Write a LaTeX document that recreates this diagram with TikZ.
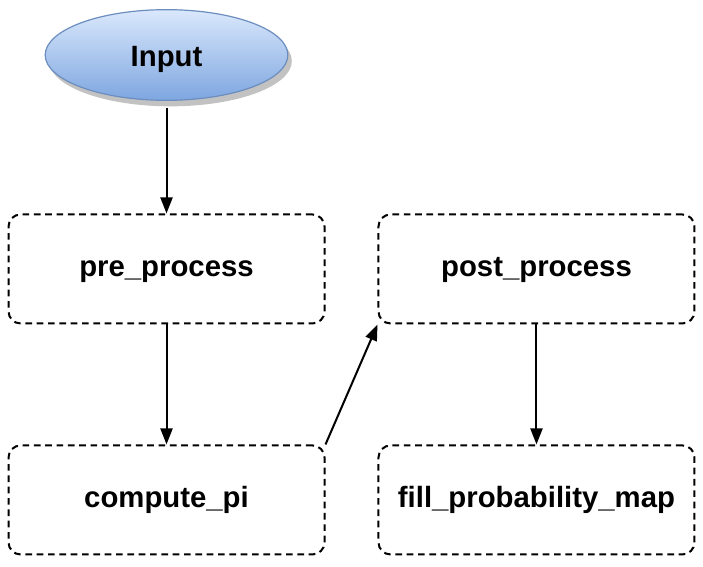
\documentclass[tikz,border=0pt]{standalone}
\usepackage{fontspec}
\setmainfont{Liberation Sans}
\usetikzlibrary{positioning,shapes.geometric,shadows,arrows.meta}
\definecolor{inputedge}{HTML}{6C8EBF}
\definecolor{inputtop}{HTML}{DAE8FC}
\definecolor{inputbottom}{HTML}{7EA6E0}

\begin{document}
\begin{tikzpicture}[node distance=173.25pt and 277.5pt, on grid,
line width=1.5pt, >={Triangle[length=12pt,width=9pt]},
font=\fontsize{22}{26}\selectfont\bfseries,
stage/.style={draw, dash pattern=on 5pt off 3.5pt, rounded corners=9pt,
minimum width=237pt, minimum height=81.75pt, inner sep=0pt,
text height=12pt, text depth=0pt},
source/.style={ellipse, draw=inputedge, line width=0.9pt,
top color=inputtop, bottom color=inputbottom,
minimum width=182pt, minimum height=68pt, inner sep=0pt,
text height=18pt, text depth=0pt,
drop shadow={shadow xshift=3pt, shadow yshift=-4.5pt, fill=black!40, opacity=0.6}}]
\useasboundingbox (-124.9pt,-384pt) rectangle (402.4pt,41.25pt);
\node [source] (input) {Input};
\node [stage] (pre_process) [below = 160.5pt of input] {pre\_process};
\node [stage] (compute_pi) [below = of pre_process] {compute\_pi};
\node [stage] (post_process) [right = of pre_process] {post\_process};
\node [stage] (fill_map) [below = of post_process] {fill\_probability\_map};
\path [->]
(input) edge [shorten <=5pt] (pre_process)
(pre_process) edge (compute_pi)
(compute_pi.north east) edge (post_process.south west)
(post_process) edge (fill_map);
\end{tikzpicture}
\end{document}
